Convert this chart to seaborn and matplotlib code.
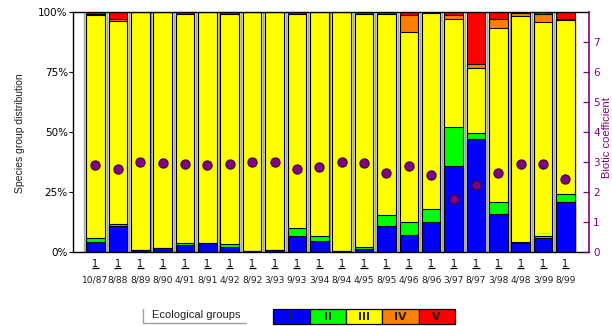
import numpy as np
import pandas as pd
import matplotlib
matplotlib.use("Agg")
import matplotlib.pyplot as plt
from matplotlib.patches import Rectangle
from matplotlib.lines import Line2D
import matplotlib.transforms as mtransforms
import seaborn as sns

# ---------------- data ----------------
dates = ["10/87", "8/88", "8/89", "8/90", "4/91", "8/91", "4/92", "8/92", "3/93", "9/93", "3/94",
         "8/94", "4/95", "8/95", "4/96", "8/96", "3/97", "8/97", "3/98", "4/98", "3/99", "8/99"]
grp_I = [4.0, 10.7, 1.0, 1.7, 2.8, 3.6, 2.2, 0.4, 0.7, 6.6, 4.7, 0.3, 1.2, 10.9, 7.1, 12.6, 36.0, 47.0, 15.8, 3.9, 5.7, 20.9]
grp_II = [1.7, 0.9, 0.0, 0.0, 1.1, 0.0, 1.1, 0.0, 0.0, 3.2, 1.8, 0.0, 0.7, 4.7, 5.6, 5.5, 16.1, 2.7, 5.0, 0.3, 0.9, 3.2]
grp_III = [92.9, 84.5, 99.0, 98.3, 95.3, 96.4, 96.0, 99.6, 99.3, 89.5, 93.5, 99.7, 97.4, 83.6, 79.0, 81.6, 45.1, 26.8, 72.7, 94.3, 89.4, 72.7]
grp_IV = [0.4, 1.1, 0.0, 0.0, 0.0, 0.0, 0.0, 0.0, 0.0, 0.0, 0.0, 0.0, 0.0, 0.0, 6.9, 0.0, 1.4, 2.0, 3.5, 1.0, 3.2, 0.3]
grp_V = [1.0, 2.8, 0.0, 0.0, 0.8, 0.0, 0.7, 0.0, 0.0, 0.7, 0.0, 0.0, 0.7, 0.8, 1.4, 0.3, 1.4, 21.5, 3.0, 0.5, 0.8, 2.9]
biotic = [2.90, 2.77, 2.99, 2.97, 2.95, 2.90, 2.94, 2.99, 2.99, 2.77, 2.85, 2.99, 2.97, 2.63, 2.88, 2.56, 1.77, 2.25, 2.63, 2.94, 2.92, 2.43]
group_names = ["I", "II", "III", "IV", "V"]
group_colors = ["#0000FF", "#00FF00", "#FFFF00", "#FF8000", "#FF0000"]
left_ticks = [0, 25, 50, 75, 100]
left_ticklabels = ["0%", "25%", "50%", "75%", "100%"]
right_ticks = [0, 1, 2, 3, 4, 5, 6, 7]

PURPLE = "#800080"

sns.set_style("white")
plt.rcParams["font.family"] = ["DejaVu Sans"]

df = pd.DataFrame({"date": dates, "I": grp_I, "II": grp_II, "III": grp_III,
                   "IV": grp_IV, "V": grp_V, "biotic": biotic})
cols = ["I", "II", "III", "IV", "V"]
cum = df[cols].cumsum(axis=1)

W, H = 612, 326
fig = plt.figure(figsize=(W / 100, H / 100), dpi=100)
ax = fig.add_axes([73.3 / W, 74 / H, (589 - 73.3) / W, 240 / H])

n = len(dates)
# separators between slots
ax.vlines(np.arange(n) - 0.5, 0, 100, colors="#A8A8A8", linewidth=1.0, zorder=0)

# stacked bars drawn as overlaid cumulative bars (top group first)
for k in range(len(cols) - 1, -1, -1):
    sns.barplot(x=df["date"], y=cum[cols[k]], color=group_colors[k], saturation=1,
                width=0.83, edgecolor="black", linewidth=0.8, ax=ax, zorder=2)

ax.set_xlim(-0.99, n - 1 + 1.05)
ax.set_ylim(0, 100)
ax.set_xlabel("")
ax.set_ylabel("")
ax.set_yticks(left_ticks)
ax.set_yticklabels(left_ticklabels, fontsize=7.5)
ax.tick_params(axis="y", direction="out", length=3, width=0.8, pad=1, colors="black", left=True)
ax.set_xticks(np.arange(n))
ax.set_xticklabels(["1"] * n, fontsize=7)
ax.tick_params(axis="x", direction="in", length=4, width=0.8, pad=5, bottom=True, colors="black")
for s in ["left", "top", "bottom"]:
    ax.spines[s].set_visible(True)
    ax.spines[s].set_color("black")
    ax.spines[s].set_linewidth(1.0)
ax.spines["right"].set_visible(False)

# underline under the "1" labels and date labels
trans = mtransforms.blended_transform_factory(ax.transData, ax.transAxes)
ax.hlines([-0.067] * n, np.arange(n) - 0.16, np.arange(n) + 0.16, colors="black",
          linewidth=0.9, transform=trans, clip_on=False)
for i, d in enumerate(dates):
    ax.text(i, -0.117, d, transform=trans, ha="center", va="center", fontsize=6.6,
            color="#202020", clip_on=False)

# biotic coefficient on right axis
ax2 = ax.twinx()
sns.scatterplot(x=np.arange(n), y=df["biotic"], ax=ax2, s=44, color=PURPLE,
                edgecolor="#3a003a", linewidth=0.8, zorder=5, legend=False)
ax2.set_ylim(0, 8)
ax2.set_xlim(-0.99, n - 1 + 1.05)
ax2.set_ylabel("")
ax2.set_yticks(right_ticks)
ax2.set_yticklabels([str(t) for t in right_ticks], fontsize=7.5)
ax2.tick_params(axis="y", direction="in", length=4.5, width=0.9, pad=3, colors=PURPLE, right=True)
for s in ["left", "top", "bottom"]:
    ax2.spines[s].set_visible(False)
ax2.spines["right"].set_visible(True)
ax2.spines["right"].set_color(PURPLE)
ax2.spines["right"].set_linewidth(1.2)

# axis titles
fig.text(20 / W, 1 - 133 / H, "Species group distribution", rotation=90, ha="center",
         va="center", fontsize=7.5, family=["Liberation Sans"], color="#202020")
fig.text(607 / W, 1 - 138 / H, "Biotic coefficient", rotation=90, ha="center",
         va="center", fontsize=8, family=["Liberation Sans"], color=PURPLE)

# legend
fig.text(196.5 / W, 1 - 315.5 / H, "Ecological groups", ha="center", va="center",
         fontsize=8, family=["Liberation Sans"], color="#202020")
fig.add_artist(Line2D([143 / W, 143 / W], [1 - 309 / H, 1 - 323 / H], color="#A0A0A0", lw=1))
fig.add_artist(Line2D([143 / W, 246 / W], [1 - 323 / H, 1 - 323 / H], color="#A0A0A0", lw=1))
bx0, bw, by0, bh = 273.3, 36.3, 309, 15
for k, (nm, c) in enumerate(zip(group_names, group_colors)):
    fig.add_artist(Rectangle(((bx0 + k * bw) / W, 1 - (by0 + bh) / H), bw / W, bh / H,
                             facecolor=c, edgecolor="black", lw=0.9))
    fig.text((bx0 + (k + 0.5) * bw) / W, 1 - (by0 + bh / 2) / H, nm, ha="center",
             va="center", fontsize=8, fontweight="bold", color="#202020")

fig.savefig("out.png", dpi=100)
